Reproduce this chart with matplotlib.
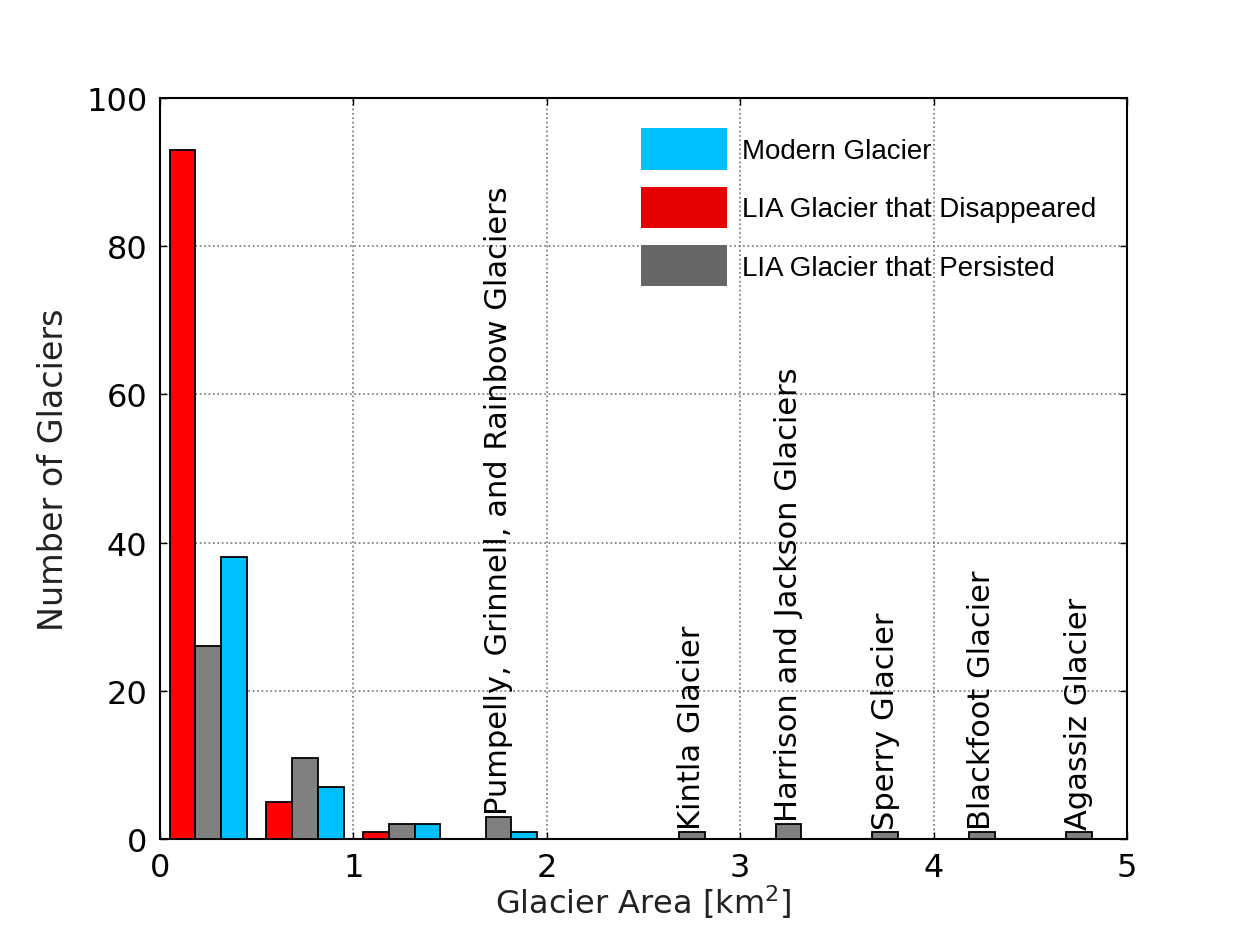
import numpy as np
import matplotlib.pyplot as plt
from matplotlib.patches import Patch

# glacier counts per 0.5 km^2 area bin
bin_edges = np.arange(0, 5.5, 0.5)
disappeared = [93, 5, 1, 0, 0, 0, 0, 0, 0, 0]
persisted = [26, 11, 2, 3, 0, 1, 2, 1, 1, 1]
modern = [38, 7, 2, 1, 0, 0, 0, 0, 0, 0]

# named glaciers sitting in the larger bins (index into bins)
named_bins = [3, 5, 6, 7, 8, 9]
named_glaciers = ['Pumpelly, Grinnell, and Rainbow Glaciers', 'Kintla Glacier',
                  'Harrison and Jackson Glaciers', 'Sperry Glacier',
                  'Blackfoot Glacier', 'Agassiz Glacier']

fig = plt.figure(figsize=(12.52, 9.28), dpi=100)
ax = fig.add_axes([0.1278, 0.0948, 0.7724, 0.7985])

# grouped bars like a multi-dataset histogram
binw = bin_edges[1] - bin_edges[0]
w = 0.8 * binw / 3
left = bin_edges[:-1] + 0.1 * binw
series = [(disappeared, '#ff0000'), (persisted, '#808080'), (modern, '#00bfff')]
for k, (counts, col) in enumerate(series):
    ax.bar(left + k * w, counts, width=w, align='edge', color=col,
           edgecolor='black', linewidth=1.3, zorder=3)

for i, name in zip(named_bins, named_glaciers):
    xc = left[i] + 1.5 * w
    ax.text(xc, persisted[i] + 0.4, name, rotation=90, ha='center', va='bottom',
            fontsize=22, zorder=4)

ax.set_xlim(0, 5)
ax.set_ylim(0, 100)
ax.set_xticks(range(0, 6))
ax.set_yticks(range(0, 101, 20))
ax.tick_params(direction='in', length=5, width=1, top=True, right=True,
               labelsize=23)
ax.tick_params(axis='x', pad=9)
ax.tick_params(axis='y', pad=9)
ax.grid(True, linestyle=':', color='0.45', linewidth=1.2, zorder=0)
for s in ax.spines.values():
    s.set_linewidth(1.5)

ax.set_xlabel('Glacier Area [km$^2$]', fontsize=23, color='#222222', labelpad=0)
ax.set_ylabel('Number of Glaciers', fontsize=24, color='#222222', labelpad=12)

handles = [Patch(facecolor='#00bfff', label='Modern Glacier'),
           Patch(facecolor='#e60000', label='LIA Glacier that Disappeared'),
           Patch(facecolor='#666666', label='LIA Glacier that Persisted')]
ax.legend(handles=handles, loc='upper left', bbox_to_anchor=(0.4974, 0.959),
          frameon=False, borderpad=0, borderaxespad=0,
          prop={'family': 'Liberation Sans', 'size': 20},
          handlelength=3.1, handleheight=1.9, labelspacing=0.62,
          handletextpad=0.54)

fig.savefig('out.png', dpi=100)
